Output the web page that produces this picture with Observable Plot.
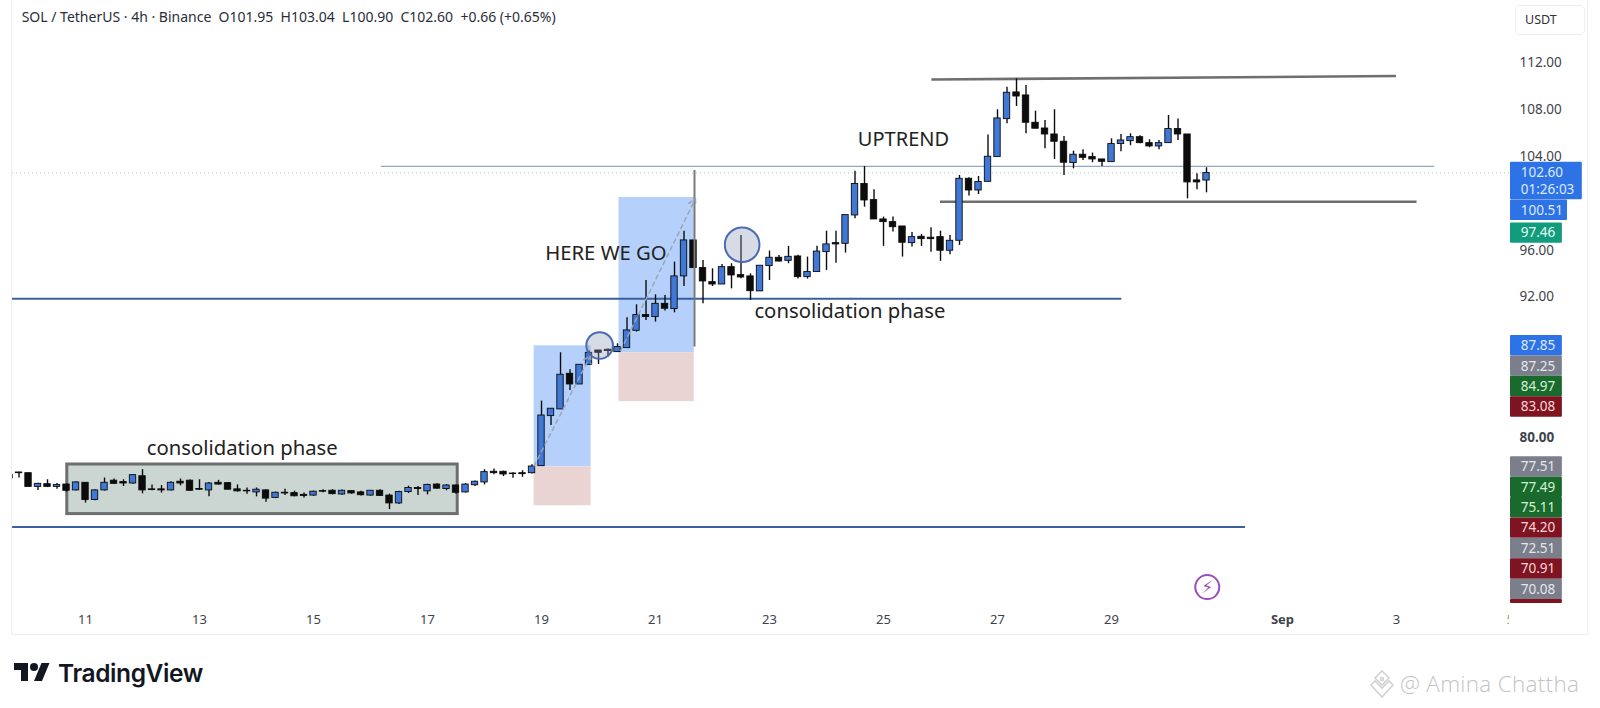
<!DOCTYPE html>
<html>
<head>
<meta charset="utf-8">
<script src="https://cdn.jsdelivr.net/npm/d3@7"></script>
<script src="https://cdn.jsdelivr.net/npm/@observablehq/plot@0.6"></script>
<style>
html,body{margin:0;padding:0;background:#fff;overflow:hidden}
#page{position:relative;width:1600px;height:708px}
#panel{position:absolute;left:11px;top:-1px;width:1577px;height:636px;border:1px solid #eceef2;box-sizing:border-box;pointer-events:none}
#usdt{position:absolute;left:1515px;top:5px;width:70px;height:30px;box-sizing:border-box;border:1px solid #eceef2;border-radius:5px;font:12.5px "Noto Sans",sans-serif;color:#333;line-height:28px;padding-left:9px}
#chart{position:absolute;left:0;top:0}
#brand{position:absolute;left:14px;top:659px;display:flex;align-items:center}
#brand span{font:600 24.5px Inter,sans-serif;color:#131722;margin-left:8px;letter-spacing:-.4px;line-height:28px}
#mark{position:absolute;left:1400px;top:669px;font:300 22.5px "Open Sans",sans-serif;color:#c4c4c4;white-space:nowrap;line-height:30px;letter-spacing:.3px}
#diamond{position:absolute;left:1367px;top:669px}
</style>
</head>
<body>
<div id="page">
<div id="chart"></div>
<div id="panel"></div>
<div id="usdt">USDT</div>
<div id="brand"><svg width="36" height="28" viewBox="0 0 36 28"><path fill="#131722" d="M14 22H7V11H0V4h14v18zM28 22h-8l7.5-18h8L28 22z"/><circle fill="#131722" cx="20" cy="8" r="4"/></svg><span>TradingView</span></div>
<svg id="diamond" width="30" height="32" viewBox="0 0 30 32"><g fill="none" stroke="#d2d2d2" stroke-width="1.6"><path d="M15 2l7 7-7 7-7-7zM4 16l4-4 7 7 7-7 4 4-11 12z"/><circle cx="15" cy="10" r="1.5"/></g></svg>
<div id="mark">@ Amina Chattha</div>
</div>
<script>
const header = "SOL / TetherUS · 4h · Binance  O101.95  H103.04  L100.90  C102.60  +0.66 (+0.65%)";
const firstCandleDay = 9.6667, candleStep = 1 / 6;
const opens = [76.54,77.04,76.98,75.81,76.04,75.81,76.01,75.51,76.16,74.69,75.51,76.34,76.22,76.10,76.72,75.60,75.60,75.51,76.25,76.34,75.63,75.51,76.16,76.13,75.60,75.48,75.34,75.51,74.87,75.31,75.28,75.13,75.07,75.45,75.48,75.16,75.45,75.34,75.07,75.48,75.07,74.40,75.37,75.72,75.43,76.01,75.63,75.93,75.34,75.95,76.19,77.10,77.10,76.95,76.98,76.98,
 77.58,81.85,82.42,85.46,84.55,86.23,87.45,87.51,87.31,87.65,89.13,90.47,90.30,91.43,90.98,93.77,96.84,94.48,93.28,93.08,94.56,93.88,93.77,92.49,94.65,95.36,95.10,95.47,93.71,
 94.14,95.84,96.61,96.55,98.97,101.65,100.28,98.63,98.40,98.03,96.61,97.15,97.07,97.12,95.96,96.81,102.10,101.10,101.84,103.95,107.19,109.47,109.21,106.88,106.39,105.88,105.26,103.44,104.15,103.95,103.75,103.52,105.06,105.31,105.65,105.14,104.86,105.14,106.34,105.88,101.96,101.95];
const highs = [76.84,77.07,76.98,76.13,76.42,76.10,76.07,76.25,76.16,75.57,76.57,76.48,76.42,76.87,77.28,75.98,75.92,76.25,76.48,76.40,76.42,76.19,76.37,76.19,75.98,75.72,75.72,75.57,75.37,75.60,75.45,75.28,75.45,75.57,75.57,75.54,75.48,75.43,75.51,75.57,75.19,75.43,75.87,75.84,76.04,76.07,76.01,75.98,76.10,76.31,77.28,77.34,77.16,77.01,77.19,77.70,
 83.13,82.48,87.25,85.80,86.23,87.40,87.45,87.57,88.02,90.24,91.35,93.43,92.20,92.15,94.99,97.63,96.84,95.13,94.42,94.79,94.85,97.26,93.99,94.68,95.93,95.56,96.33,95.58,95.42,
 96.35,97.63,97.63,99.00,102.75,103.15,101.16,98.83,98.83,98.03,97.52,97.35,97.92,97.63,97.27,102.38,102.19,102.30,105.83,107.99,109.92,110.63,110.06,107.87,107.08,107.99,105.71,104.46,104.57,104.29,103.75,105.51,105.88,105.94,105.77,105.43,105.37,107.50,107.19,105.88,102.53,103.04];
const lows = [76.54,76.57,75.81,75.51,75.75,75.60,75.37,75.45,74.43,74.63,75.45,76.01,75.84,76.04,75.22,75.48,75.28,75.45,75.90,75.43,75.51,74.96,75.95,75.54,75.37,75.19,74.96,74.49,74.81,75.07,74.96,74.87,75.01,75.31,75.13,75.10,75.19,75.04,75.01,74.99,73.87,74.31,75.25,75.07,75.13,75.60,75.48,75.19,75.28,75.84,75.98,76.84,76.69,76.54,76.63,76.90,
 77.58,81.05,82.42,84.04,84.55,86.17,86.26,86.89,87.31,87.65,89.02,90.01,89.87,90.81,90.66,92.91,94.48,91.44,92.91,93.08,92.71,93.57,91.72,92.49,93.42,94.99,94.85,93.54,93.54,
 94.14,94.28,94.90,95.76,98.69,99.68,98.63,96.33,97.55,95.42,96.27,96.33,95.84,95.05,95.61,96.41,100.62,100.76,101.84,103.95,106.79,108.27,105.94,106.37,104.66,103.75,102.38,102.95,103.66,103.47,103.15,103.52,104.40,104.92,105.09,104.75,104.57,105.14,105.37,100.39,101.16,100.90];
const closes = [76.84,76.98,75.81,76.07,75.81,75.98,75.48,76.19,74.69,75.51,76.16,76.07,76.10,76.81,75.51,75.54,75.51,76.16,76.10,75.48,75.57,76.10,76.01,75.57,75.43,75.43,75.57,74.81,75.31,75.25,75.01,75.04,75.40,75.40,75.19,75.48,75.25,75.10,75.48,75.04,74.40,75.37,75.72,75.63,75.98,75.66,75.93,75.31,76.01,76.25,77.07,76.98,76.87,76.90,76.90,77.55,
 81.90,82.48,85.38,84.55,86.23,87.25,87.25,87.40,87.74,89.16,90.47,90.30,91.43,91.01,93.77,96.84,94.48,93.34,93.08,94.56,93.85,93.68,92.51,94.68,95.36,95.04,95.44,93.71,94.14,
 95.89,96.50,96.50,99.00,101.65,100.25,98.63,98.40,97.97,96.64,97.12,96.95,96.95,95.96,96.81,102.10,101.10,101.82,103.98,107.25,109.44,109.12,106.88,106.37,105.88,105.26,103.47,104.15,103.89,103.75,103.55,105.06,105.37,105.65,105.14,104.86,105.14,106.34,105.88,101.79,101.79,102.60];

const priceTicks = [112, 108, 104, 96, 92];
const boldPriceTicks = [80];
const dayTicks = [11, 13, 15, 17, 19, 21, 23, 25, 27, 29, 34, 36];
const dayLabels = ["11","13","15","17","19","21","23","25","27","29","3","5"];
const monthTick = 32, monthLabel = "Sep";

const tagValues = [102.60,100.51,97.46,87.85,87.25,84.97,83.08,77.51,77.49,75.11,74.20,72.51,70.91,70.08,69.60];
const tagKinds  = ["blue","blue","teal","blue","gray","green","red","gray","green","green","red","gray","red","gray","red"];
const countdown = "01:26:03";

const blueZones = {from:[18.87,20.36], to:[19.87,21.68], top:[87.85,100.51], bottom:[77.51,87.25]};
const pinkZones = {from:[18.87,20.36], to:[19.87,21.68], top:[77.51,87.25], bottom:[74.20,83.08]};
const rangeBox = {from:[10.68], to:[17.53], top:[77.72], bottom:[73.49]};

const candles = opens.map((o,i)=>({d:firstCandleDay+i*candleStep,o,h:highs[i],l:lows[i],c:closes[i]}));
const zones = z => z.from.map((f,i)=>({f,t:z.to[i],a:z.top[i],b:z.bottom[i]}));
const blueC="#3f78d6", ink="#0c0c0c", level="#3b5e9e", grayLine="#6f6f6f";
const tagFill={blue:"#2e73e6",gray:"#7b7f8c",green:"#1a6a2d",red:"#7e1421",teal:"#129b7c"};
const tagInk={blue:"#dce9ff",gray:"#e6e6ea",green:"#d2f3d2",red:"#fbd5d8",teal:"#e5fff6"};
const tagHalf=0.87, tagStep=1.74, tallStep=3.19;
let pos=[]; tagValues.forEach((v,i)=>{pos[i]= i===0? v : Math.min(v, pos[i-1]-(i===1?tallStep:tagStep));});
const tags=tagValues.map((v,i)=>({v,kind:tagKinds[i],p:pos[i],i}));
const circleStyle={fill:"#8c99b5",fillOpacity:0.35,stroke:"#4a6bb3",strokeWidth:2};

const chart = Plot.plot({
  width:1600,height:636,
  marginLeft:12,marginRight:90,marginTop:4,marginBottom:31,
  x:{domain:[9.719,36.0]},
  y:{domain:[65.69,116.97]},
  style:{background:"transparent",fontFamily:"'Noto Sans',sans-serif",fontSize:"13px",color:"#3f434d"},
  marks:[
    Plot.axisX({ticks:dayTicks,tickSize:0,tickPadding:9,anchor:"bottom",label:null,fontSize:13,tickFormat:d=>dayLabels[dayTicks.indexOf(d)]}),
    Plot.axisX({ticks:[monthTick],tickSize:0,tickPadding:9,anchor:"bottom",label:null,fontSize:13,fontWeight:"bold",tickFormat:()=>monthLabel}),
    Plot.rect([1],{x1:()=>35.975,x2:()=>36.3,y1:()=>65.6,y2:()=>63.2,fill:"#fff"}),
    Plot.axisY({anchor:"right",ticks:priceTicks,tickSize:0,tickPadding:9,label:null,fontSize:13.5,tickFormat:d=>d.toFixed(2)}),
    Plot.axisY({anchor:"right",ticks:boldPriceTicks,tickSize:0,tickPadding:9,label:null,fontSize:13.5,fontWeight:"bold",tickFormat:d=>d.toFixed(2)}),

    Plot.rect(zones(blueZones),{x1:"f",x2:"t",y1:"a",y2:"b",fill:"#b5d1fb"}),
    Plot.rect(zones(pinkZones),{x1:"f",x2:"t",y1:"a",y2:"b",fill:"#e9d3d3"}),
    Plot.rect(zones(rangeBox),{x1:"f",x2:"t",y1:"a",y2:"b",fill:"#cbd6d3",stroke:"#6c6f6e",strokeWidth:3}),
    Plot.ruleY([102.60],{x1:()=>9.72,x2:()=>36,stroke:"#aebccb",strokeDasharray:"1 3"}),
    Plot.ruleY([103.15],{x1:()=>16.19,x2:()=>34.67,stroke:"#8fa6c4",strokeWidth:1.3}),
    Plot.ruleY([91.86],{x1:()=>9.72,x2:()=>29.18,stroke:level,strokeWidth:2}),
    Plot.ruleY([72.39],{x1:()=>9.72,x2:()=>31.35,stroke:level,strokeWidth:2}),
    Plot.link([{a:25.84,b:110.57,c:33.99,e:110.87}],{x1:"a",y1:"b",x2:"c",y2:"e",stroke:grayLine,strokeWidth:2.6}),
    Plot.ruleY([100.14],{x1:()=>26.0,x2:()=>34.36,stroke:grayLine,strokeWidth:2.6}),

    Plot.ruleX(candles,{x:"d",y1:"l",y2:"h",stroke:ink,strokeWidth:1.4,clip:true}),
    Plot.rect(candles,{x1:d=>d.d-0.056,x2:d=>d.d+0.056,y1:"o",y2:"c",fill:d=>d.c>=d.o?blueC:ink,stroke:ink,strokeWidth:0.9,clip:true}),

    Plot.ruleX([21.684],{y1:()=>87.74,y2:()=>102.81,stroke:"#7a7a7a",strokeWidth:2}),
    Plot.arrow([{a:18.87,b:77.6,c:19.86,e:87.02},{a:20.39,b:87.45,c:21.70,e:100.39}],{x1:"a",y1:"b",x2:"c",y2:"e",stroke:"#9aa5b5",strokeWidth:1.5,strokeDasharray:"4 4",headLength:8}),
    Plot.dot([1],{x:()=>20.02,y:()=>87.88,r:13.3,...circleStyle}),
    Plot.dot([1],{x:()=>22.52,y:()=>96.47,r:17.3,...circleStyle}),

    Plot.text(["consolidation phase"],{x:()=>13.75,y:()=>79.09,fontSize:20.3,fill:"#222"}),
    Plot.text(["consolidation phase"],{x:()=>24.41,y:()=>90.78,fontSize:20.3,fill:"#222"}),
    Plot.text(["HERE WE GO"],{x:()=>20.13,y:()=>95.73,fontSize:20.3,fill:"#222"}),
    Plot.text(["UPTREND"],{x:()=>25.35,y:()=>105.48,fontSize:20,fill:"#222"}),

    Plot.dot([1],{x:()=>30.68,y:()=>67.26,r:12,stroke:"#9a4dbb",strokeWidth:2,fill:"#fff"}),
    Plot.text(["\u26A1\uFE0E"],{x:()=>30.68,y:()=>67.26,fontSize:17,fill:"#9a4dbb",fontFamily:"DejaVu Sans"}),

    Plot.rect(tags,{
      x1:()=>36,
      x2:d=>d.i===0?37.26:d.i===1?37.0:36.91,
      y1:d=>d.i===0?d.p+0.9:d.p+tagHalf,
      y2:d=>d.i===0?d.p-2.28:Math.max(d.p-tagHalf,65.87),
      fill:d=>tagFill[d.kind],rx:1}),
    Plot.text(tags.filter(d=>d.p>66.6),{x:()=>36.18,y:"p",text:d=>d.v.toFixed(2),textAnchor:"start",fontSize:13.5,fill:d=>tagInk[d.kind]}),
    Plot.text([countdown],{x:()=>36.18,y:()=>101.17,textAnchor:"start",fontSize:13.5,fill:tagInk.blue}),

    Plot.text([header],{x:()=>9.88,y:()=>115.87,textAnchor:"start",fontSize:14,fill:"#2a2e39"})
  ]
});
document.getElementById("chart").append(chart);
</script>
</body>
</html>
